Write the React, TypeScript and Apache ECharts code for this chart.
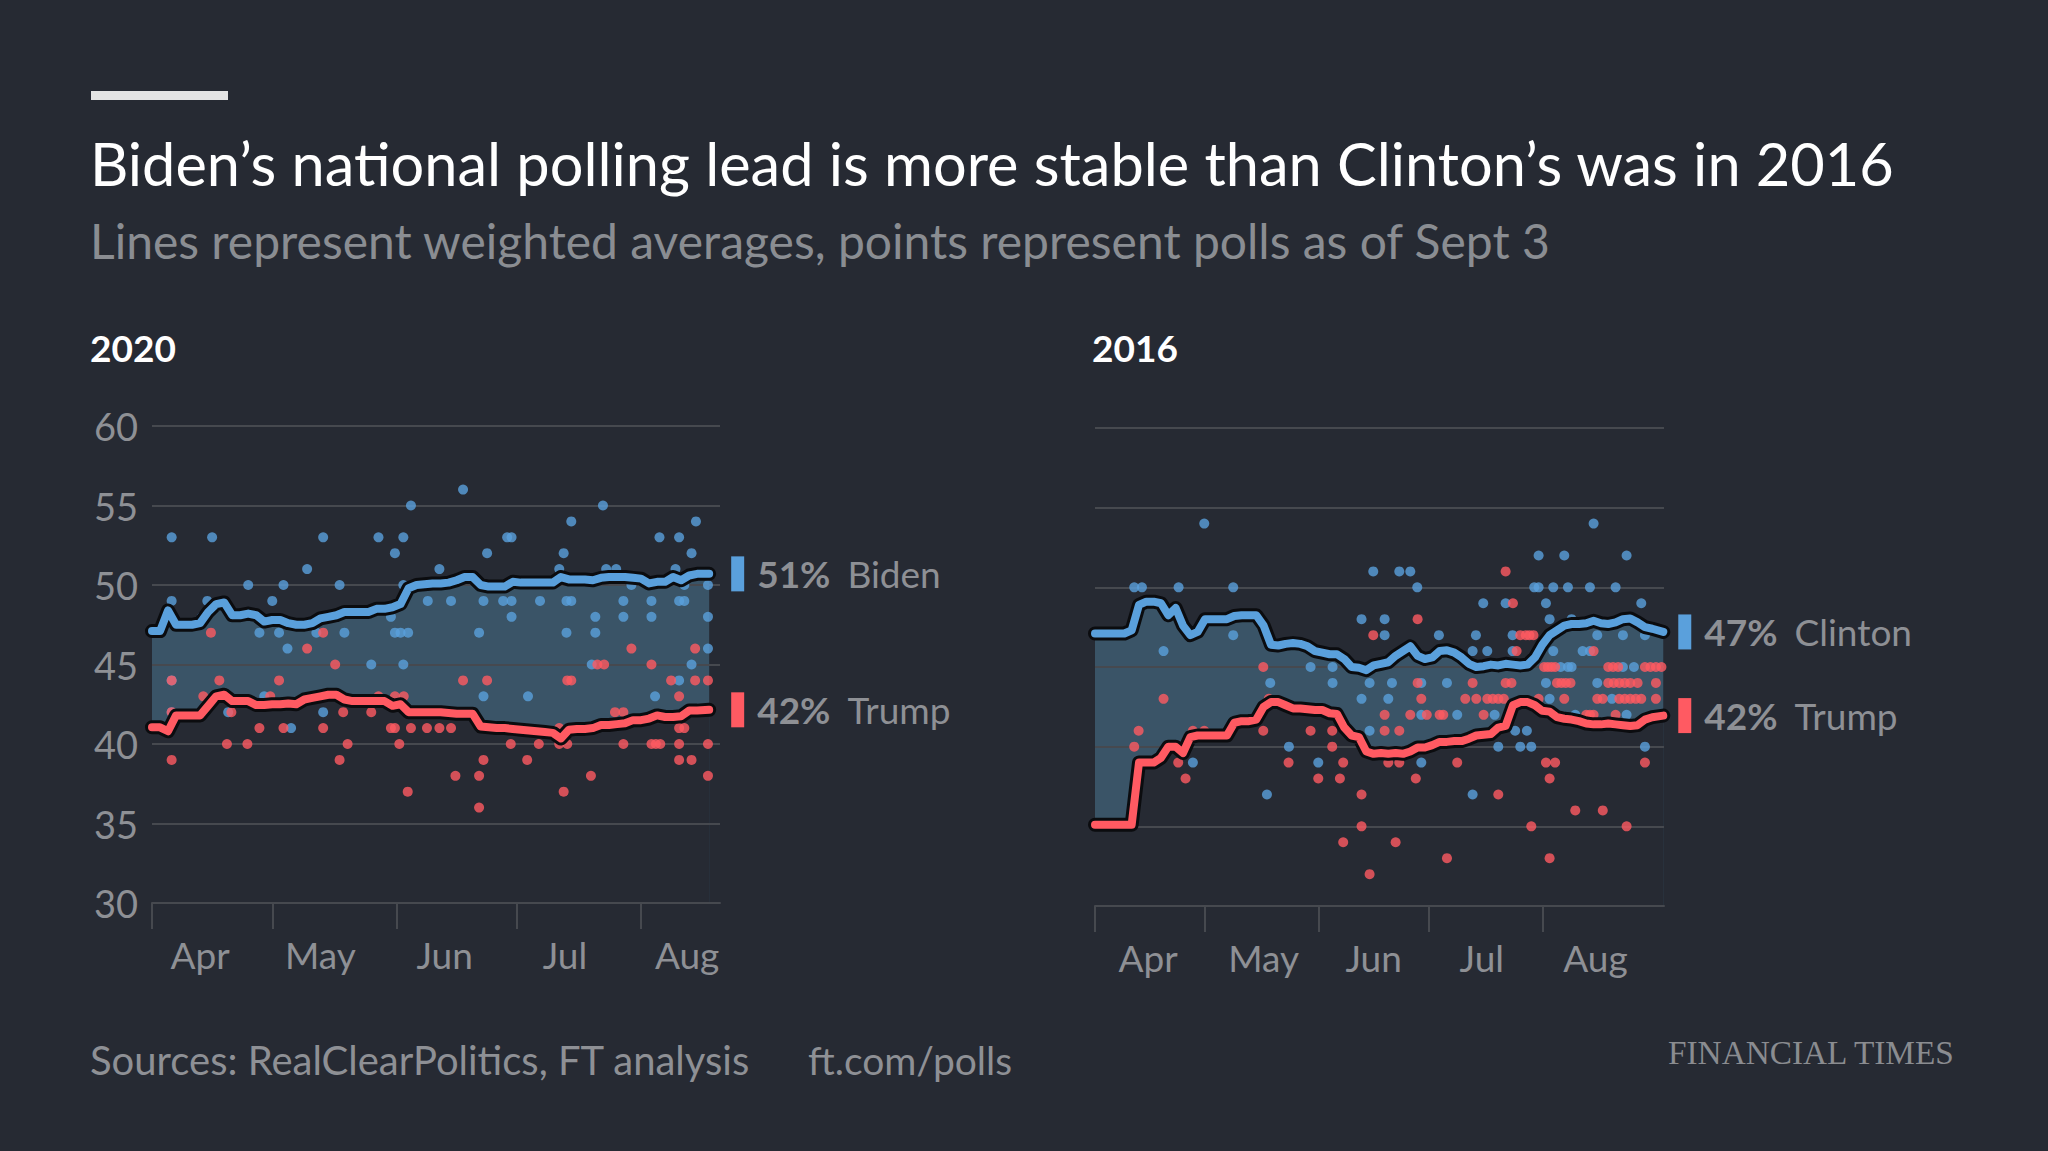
import * as echarts from "echarts";
import { useEffect, useRef } from "react";

const BG = "#262a33";
const AREA = "#3a5467";
const BLUE = "#5aa0dc";
const RED = "#ff5a62";
const GRID = "#46494f";
const GREY = "#8e9095";
const OUTLINE = "#0b0c0f";
const FONT = "Lato, 'Noto Sans', sans-serif";

// x values are days since April 1
const MONTHS = ["Apr", "May", "Jun", "Jul", "Aug"];
const MONTH_STARTS = [0, 30, 61, 91, 122];
const LABEL_DAYS_2020 = [12, 42, 73, 103, 133.5];
const LABEL_DAYS_2016 = [14.5, 46, 76, 105.5, 136.5];

// weighted averages, 2020
const DAYS_2020 = [
  0, 2, 4, 6, 8, 10, 12, 14, 16, 18, 20, 22, 24, 26, 28, 30, 32, 34, 36, 38,
  40, 42, 44, 46, 48, 50, 52, 54, 56, 58, 60, 62, 64, 66, 68, 70, 72, 74, 76,
  78, 80, 82, 84, 86, 88, 90, 92, 94, 96, 98, 100, 102, 104, 106, 108, 110,
  112, 114, 116, 118, 120, 122, 124, 126, 128, 130, 132, 134, 136, 139,
];
const BIDEN_AVG = [
  47.1, 47.1, 48.4, 47.5, 47.5, 47.5, 47.6, 48.3, 48.8, 48.9, 48.1, 48.1, 48.2,
  48.1, 47.7, 47.8, 47.8, 47.6, 47.5, 47.5, 47.6, 47.9, 48.0, 48.1, 48.3, 48.3,
  48.3, 48.3, 48.5, 48.5, 48.6, 48.8, 49.8, 50.0, 50.05, 50.1, 50.1, 50.15,
  50.3, 50.5, 50.5, 50.0, 49.9, 49.9, 49.9, 50.2, 50.15, 50.15, 50.15, 50.15,
  50.15, 50.5, 50.35, 50.35, 50.35, 50.3, 50.45, 50.5, 50.5, 50.5, 50.45, 50.4,
  50.1, 50.2, 50.2, 50.5, 50.3, 50.6, 50.7, 50.7,
];
const TRUMP_AVG_2020 = [
  41.05, 41.05, 40.8, 41.8, 41.8, 41.8, 41.8, 42.4, 43.0, 43.1, 42.7, 42.7,
  42.7, 42.45, 42.45, 42.5, 42.5, 42.55, 42.5, 42.8, 42.9, 43.0, 43.1, 43.1,
  42.8, 42.7, 42.7, 42.7, 42.7, 42.7, 42.4, 42.5, 42.0, 42.0, 42.0, 42.0, 42.0,
  41.95, 41.9, 41.9, 41.9, 41.1, 41.05, 41.0, 41.0, 40.95, 40.9, 40.85, 40.8,
  40.75, 40.7, 40.35, 40.9, 40.95, 40.95, 41.0, 41.2, 41.2, 41.25, 41.3, 41.5,
  41.5, 41.6, 41.8, 41.7, 41.7, 41.75, 42.1, 42.1, 42.15,
];

// weighted averages, 2016
const DAYS_2016 = [
  0, 2, 4, 6, 8, 10, 12, 14, 16, 18, 20, 22, 24, 26, 28, 30, 32, 34, 36, 38,
  40, 42, 44, 46, 48, 50, 52, 54, 56, 58, 60, 62, 64, 66, 68, 70, 72, 74, 76,
  78, 80, 82, 84, 86, 88, 90, 92, 94, 96, 98, 100, 102, 104, 106, 108, 110,
  112, 114, 116, 118, 120, 122, 124, 126, 128, 130, 132, 134, 136, 138, 140,
  142, 144, 146, 148, 150, 152, 155,
];
const CLINTON_AVG = [
  47.1, 47.1, 47.1, 47.1, 47.1, 47.3, 48.9, 49.1, 49.1, 49.0, 48.25, 48.7, 47.6,
  47.0, 47.2, 48.0, 48.0, 48.0, 48.0, 48.2, 48.25, 48.25, 48.25, 47.6, 46.4,
  46.35, 46.45, 46.5, 46.45, 46.3, 46.0, 45.9, 45.8, 45.8, 45.5, 45.0, 44.95,
  44.8, 45.1, 45.2, 45.3, 45.7, 46.0, 46.3, 45.7, 45.5, 45.6, 46.0, 46.05, 45.9,
  45.6, 45.2, 45.0, 45.05, 45.15, 45.1, 45.2, 45.15, 45.1, 45.15, 45.6, 46.4,
  47.0, 47.3, 47.6, 47.7, 47.7, 47.75, 47.9, 47.75, 47.7, 47.8, 48.0, 48.05,
  47.8, 47.5, 47.4, 47.2,
];
const TRUMP_AVG_2016 = [
  35.1, 35.1, 35.1, 35.1, 35.1, 35.1, 39.0, 39.0, 39.0, 39.3, 40.0, 40.0, 39.6,
  40.6, 40.7, 40.7, 40.7, 40.7, 40.7, 41.5, 41.6, 41.6, 41.7, 42.5, 42.8, 42.8,
  42.6, 42.4, 42.4, 42.35, 42.3, 42.3, 42.1, 42.05, 41.2, 40.7, 40.6, 39.7,
  39.55, 39.6, 39.55, 39.6, 39.55, 39.7, 39.95, 39.95, 40.1, 40.3, 40.3, 40.35,
  40.35, 40.5, 40.7, 40.75, 40.8, 41.2, 41.3, 42.6, 42.8, 42.8, 42.6, 42.25,
  42.2, 41.85, 41.75, 41.7, 41.6, 41.45, 41.4, 41.4, 41.45, 41.4, 41.35, 41.3,
  41.35, 41.7, 41.85, 41.95,
];

// individual polls [day, share]
const BIDEN_POLLS = [
  [4.9, 53], [4.9, 49], [4.9, 44], [4.9, 42], [12.5, 48], [13.8, 49], [15, 53],
  [19, 42], [24, 50], [26.8, 47], [28, 43], [30, 49], [31.7, 47], [32.8, 50],
  [33.8, 46], [34.7, 41], [38.7, 51], [41, 47], [42.7, 53], [42.7, 42],
  [46.8, 50], [48, 47], [54.7, 45], [56.5, 53], [59.6, 48], [60.6, 52],
  [60.6, 47], [62, 47], [62.7, 53], [62.7, 50], [62.7, 45], [63.9, 47],
  [64.6, 55], [68.8, 49], [71.7, 51], [74.6, 49], [77.6, 56], [81.6, 47],
  [82.7, 49], [82.7, 43], [83.6, 52], [87.6, 49], [88.6, 53], [89.7, 53],
  [89.7, 49], [89.7, 48], [93.8, 43], [96.8, 49], [101.6, 51], [102.7, 52],
  [103.4, 49], [103.4, 47], [104.6, 54], [104.6, 49], [109.7, 45], [110.6, 48],
  [110.6, 47], [112.5, 55], [113.3, 51], [115.8, 51], [117.6, 49], [117.6, 48],
  [119.6, 50], [124.6, 49], [124.6, 48], [125.5, 43], [126.6, 53], [130.6, 51],
  [131.5, 53], [131.5, 49], [131.5, 44], [132.8, 50], [132.8, 49], [134.6, 52],
  [134.6, 45], [135.7, 54], [138.7, 50], [138.7, 48], [138.7, 46],
];
const TRUMP_POLLS_2020 = [
  [4.9, 44], [4.9, 42], [4.9, 39], [12.8, 43], [14.7, 47], [16.8, 44],
  [18.7, 40], [19.8, 42], [23.8, 40], [26.8, 41], [29.5, 43], [31.7, 44],
  [32.8, 41], [38.7, 46], [41, 43], [42.7, 47], [42.7, 41], [45.7, 45],
  [46.8, 39], [47.7, 42], [48.8, 40], [54.7, 42], [56.5, 43], [59.6, 41],
  [60.6, 43], [60.6, 41], [61.7, 40], [62.8, 43], [63.8, 37], [64.6, 41],
  [68.6, 41], [71.7, 41], [74.6, 41], [75.7, 38], [77.6, 44], [81.6, 38],
  [81.6, 36], [82.7, 39], [83.6, 44], [89.5, 40], [93.6, 39], [96.5, 40],
  [101.6, 40], [101.6, 41], [102.7, 37], [103.6, 44], [103.6, 40], [104.6, 44],
  [109.5, 38], [111.1, 45], [112.8, 45], [115.5, 42], [117.6, 42], [117.6, 40],
  [119.6, 46], [124.6, 45], [124.6, 40], [125.7, 40], [126.8, 40], [129.5, 44],
  [131.5, 43], [131.5, 41], [131.5, 40], [131.5, 39], [132.8, 41], [134.6, 39],
  [135.5, 46], [135.5, 44], [138.7, 44], [138.7, 40], [138.7, 38],
];
const CLINTON_POLLS = [
  [10.7, 50], [12.8, 50], [18.7, 46], [22.8, 50], [26.7, 39], [29.8, 54],
  [37.7, 50], [37.7, 47], [46.9, 37], [47.8, 44], [52.9, 40], [58.8, 45],
  [60.9, 39], [64.8, 45], [64.8, 44], [72.7, 48], [72.7, 43], [74.9, 44],
  [74.9, 41], [75.9, 51], [79, 48], [79, 47], [80, 43], [81, 44], [83, 51],
  [86, 51], [87.9, 50], [89, 44], [89, 42], [89, 39], [93.8, 47], [96, 44],
  [98.8, 42], [103, 46], [103, 37], [103.9, 47], [105.9, 49], [107, 46],
  [109, 42], [110, 40], [112, 49], [113.9, 47], [113.9, 46], [114.6, 41],
  [116, 40], [117.8, 41], [119, 40], [119.8, 50], [121, 52], [121, 50],
  [123, 49], [123, 44], [124, 48], [124, 43], [125, 50], [125, 46], [127, 45],
  [128, 52], [129, 50], [129, 45], [130, 48], [130, 45], [131, 42], [133, 46],
  [135, 50], [135, 46], [136, 54], [137, 47], [137, 44], [141, 43], [142, 50],
  [144, 47], [144, 45], [145, 52], [145, 42], [147, 45], [149, 49], [150, 47],
  [150, 40],
];
const TRUMP_POLLS_2016 = [
  [10.7, 40], [11.9, 41], [18.7, 43], [22.7, 39], [24.7, 38], [26.7, 41],
  [29.8, 41], [45.9, 45], [45.9, 41], [47.4, 43], [52.8, 39], [58.8, 41],
  [60.9, 38], [64.7, 41], [64.7, 40], [66.8, 38], [67.7, 39], [67.7, 34],
  [72.7, 37], [72.7, 35], [74.9, 32], [75.9, 47], [79, 42], [79, 41], [80, 39],
  [82, 34], [83, 41], [83, 39], [86, 42], [87.5, 38], [88, 48], [88, 44],
  [89, 43], [90.5, 42], [94, 42], [95, 42], [96, 33], [98.8, 39], [101, 43],
  [103, 44], [104, 43], [106, 42], [107, 43], [108.5, 43], [110, 43], [110, 37],
  [111.5, 43], [112, 51], [112, 44], [113.6, 44], [114, 49], [115, 46],
  [116, 47], [117.5, 47], [118.5, 47], [119.6, 47], [119, 35], [121, 43],
  [122.5, 45], [123.5, 45], [124.5, 45], [125.5, 45], [123, 39], [125.5, 39],
  [124, 38], [124, 33], [126, 44], [127.2, 44], [128.4, 44], [129.7, 44],
  [128, 43], [131, 36], [134, 42], [135, 42], [136, 42], [136, 46], [137, 43],
  [138.5, 43], [138.5, 36], [140, 45], [141.3, 45], [142.7, 45], [140, 44],
  [141.5, 44], [143, 44], [144.5, 44], [146, 44], [148, 44], [142, 42],
  [143, 43], [144.5, 43], [146, 43], [147.5, 43], [149, 43], [145, 35],
  [150, 45], [151.5, 45], [153, 45], [154.5, 45], [150, 39], [153, 44],
  [153, 43],
];

const monthName = (v: number) => {
  let i = 0;
  MONTH_STARTS.forEach((s, k) => {
    if (v >= s) i = k;
  });
  return MONTHS[i];
};

const pairs = (days: number[], vals: number[]) => days.map((d, i) => [d, vals[i]]);

const panelSeries = (
  g: number,
  days: number[],
  dem: number[],
  rep: number[],
  demPolls: number[][],
  repPolls: number[][],
  demName: string,
  endDistance: number
): any[] => {
  const common = { xAxisIndex: g, yAxisIndex: g, symbol: "none", silent: true };
  const label = (vals: number[], name: string, color: string) => ({
    show: true,
    distance: endDistance,
    formatter: `{bar|}{sp|}{pct|${Math.round(vals[vals.length - 1])}%}{sp2|}{name|${name}}`,
    rich: {
      bar: { backgroundColor: color, width: 13, height: 35 },
      sp: { width: 13 },
      pct: { fontFamily: FONT, fontWeight: "bold", fontSize: 37, color: GREY },
      sp2: { width: 17 },
      name: { fontFamily: FONT, fontSize: 37, color: GREY },
    },
  });
  return [
    {
      ...common,
      type: "line",
      z: 1,
      data: pairs(days, dem),
      lineStyle: { width: 0, opacity: 0 },
      areaStyle: { color: AREA, opacity: 1, origin: "start" },
    },
    {
      ...common,
      type: "line",
      z: 1,
      data: pairs(days, rep),
      lineStyle: { width: 0, opacity: 0 },
      areaStyle: { color: BG, opacity: 1, origin: "start" },
    },
    {
      ...common,
      type: "scatter",
      z: 3,
      symbol: "circle",
      symbolSize: 10,
      itemStyle: { color: BLUE },
      data: demPolls,
    },
    {
      ...common,
      type: "scatter",
      z: 3,
      symbol: "circle",
      symbolSize: 10,
      itemStyle: { color: RED },
      data: repPolls,
    },
    ...[dem, rep].map((vals) => ({
      ...common,
      type: "line",
      z: 4,
      data: pairs(days, vals),
      lineStyle: { color: OUTLINE, width: 14, join: "round", cap: "round" },
    })),
    {
      ...common,
      type: "line",
      z: 5,
      data: pairs(days, dem),
      lineStyle: { color: BLUE, width: 8, join: "round", cap: "round" },
      endLabel: label(dem, demName, BLUE),
    },
    {
      ...common,
      type: "line",
      z: 5,
      data: pairs(days, rep),
      lineStyle: { color: RED, width: 8, join: "round", cap: "round" },
      endLabel: label(rep, "Trump", RED),
    },
  ];
};

const xAxis = (g: number, max: number, labelDays: number[]) => ({
  type: "value",
  gridIndex: g,
  min: 0,
  max,
  z: 2,
  splitLine: { show: false },
  axisLine: { show: true, lineStyle: { color: GRID, width: 2 } },
  axisTick: {
    show: true,
    customValues: MONTH_STARTS,
    length: 26,
    lineStyle: { color: GRID, width: 2 },
  },
  axisLabel: {
    customValues: labelDays,
    formatter: (v: number) => monthName(v),
    margin: 33,
    fontSize: 37,
    fontFamily: FONT,
    color: GREY,
  },
});

const yAxis = (g: number, showLabels: boolean) => ({
  type: "value",
  gridIndex: g,
  min: 30,
  max: 60,
  interval: 5,
  z: 2,
  axisLine: { show: false },
  axisTick: { show: false },
  splitLine: { show: true, lineStyle: { color: GRID, width: 2 } },
  axisLabel: {
    show: showLabels,
    margin: 14,
    fontSize: 38,
    fontFamily: FONT,
    color: GREY,
  },
});

const text = (x: number, y: number, t: string, style: any) => ({
  type: "text",
  x,
  y,
  style: { text: t, fontFamily: FONT, verticalAlign: "middle", ...style },
});

const getOptions = (): any => ({
  animation: false,
  backgroundColor: BG,
  grid: [
    { left: 152, top: 426, width: 568, height: 477, containLabel: false, outerBoundsMode: "none" },
    { left: 1095, top: 428, width: 569, height: 478, containLabel: false, outerBoundsMode: "none" },
  ],
  xAxis: [xAxis(0, 141.7, LABEL_DAYS_2020), xAxis(1, 155.2, LABEL_DAYS_2016)],
  yAxis: [yAxis(0, true), yAxis(1, false)],
  series: [
    ...panelSeries(0, DAYS_2020, BIDEN_AVG, TRUMP_AVG_2020, BIDEN_POLLS, TRUMP_POLLS_2020, "Biden", 22),
    ...panelSeries(1, DAYS_2016, CLINTON_AVG, TRUMP_AVG_2016, CLINTON_POLLS, TRUMP_POLLS_2016, "Clinton", 15),
  ],
  graphic: [
    { type: "rect", shape: { x: 91, y: 91, width: 137, height: 9 }, style: { fill: "#e4e4e4" } },
    text(90, 163, "Biden’s national polling lead is more stable than Clinton’s was in 2016", {
      fontSize: 59.5,
      fill: "#ffffff",
    }),
    text(90, 240, "Lines represent weighted averages, points represent polls as of Sept 3", {
      fontSize: 48,
      fill: "#8a8d92",
    }),
    text(90, 347, "2020", { fontSize: 37, fontWeight: "bold", fill: "#ffffff" }),
    text(1092, 347, "2016", { fontSize: 37, fontWeight: "bold", fill: "#ffffff" }),
    text(90, 1060, "Sources: RealClearPolitics, FT analysis", { fontSize: 40, fill: GREY }),
    text(808, 1060, "ft.com/polls", { fontSize: 39, fill: GREY }),
    {
      type: "text",
      x: 1668,
      y: 1052,
      style: {
        text: "FINANCIAL TIMES",
        fontFamily: "'Liberation Serif', 'DejaVu Serif', serif",
        fontSize: 33.3,
        verticalAlign: "middle",
        fill: "#8a8c90",
      },
    },
  ],
});

export default function App() {
  const chartRef = useRef<HTMLDivElement | null>(null);

  useEffect(() => {
    if (!chartRef.current) return;
    const chart = echarts.init(chartRef.current, undefined, { renderer: "svg" });
    chart.setOption(getOptions());
    const onResize = () => chart.resize();
    window.addEventListener("resize", onResize);
    return () => {
      window.removeEventListener("resize", onResize);
      chart.dispose();
    };
  }, []);

  return (
    <div
      ref={chartRef}
      style={{ position: "fixed", left: 0, top: 0, width: "100vw", height: "100vh", background: BG }}
    />
  );
}
